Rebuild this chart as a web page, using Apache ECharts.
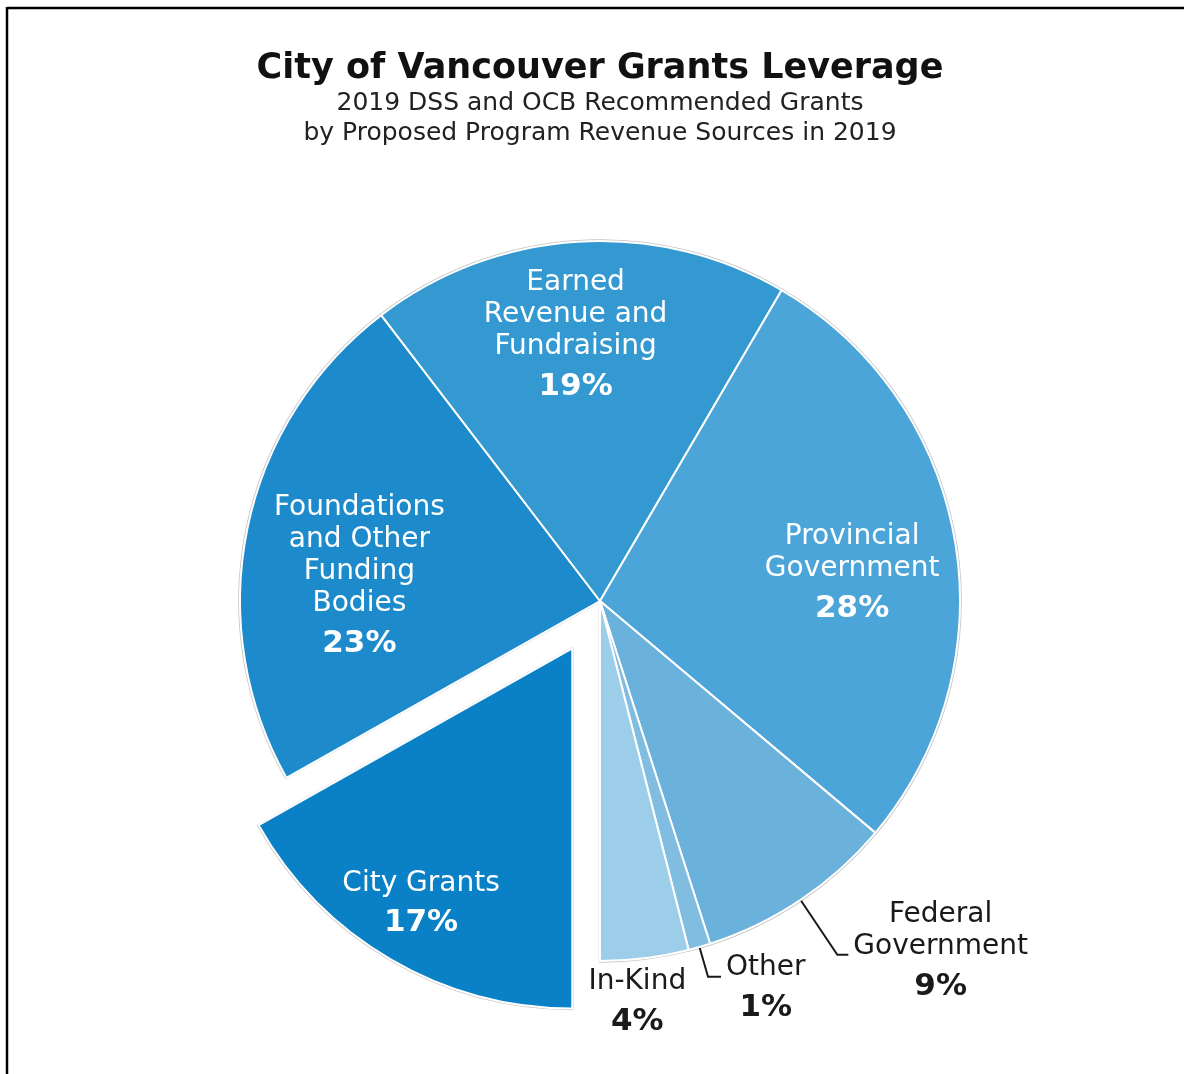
<!DOCTYPE html>
<html><head><meta charset="utf-8">
<script src="https://cdn.jsdelivr.net/npm/echarts@6/dist/echarts.min.js"></script>
<style>html,body{margin:0;padding:0;background:#fff}#c{width:1184px;height:1074px}</style>
</head><body><div id="c"></div>
<script>
const titleText = 'City of Vancouver Grants Leverage';
const subtitleLines = ['2019 DSS and OCB Recommended Grants', 'by Proposed Program Revenue Sources in 2019'];
const categories = ['City Grants', 'Foundations\nand Other\nFunding\nBodies', 'Earned\nRevenue and\nFundraising', 'Provincial\nGovernment', 'Federal\nGovernment', 'Other', 'In-Kind'];
const percents = [17, 23, 19, 28, 9, 1, 4];
const colors = ['#0a80c6', '#1d8bcb', '#3499d1', '#4ca5d8', '#6ab1db', '#80bde1', '#9ccde9'];
const labelInside = [true, true, true, true, false, false, false];
const explodedIndex = 0;
const labelShift = [[-18, 31], [18, 32], [-8, 1], [-8, 21], [0, 0], [0, 15], [-65, 18]];
const lineLen = [0, 0, 0, 0, 66, 31, 30];
const lineLen2 = [0, 0, 0, 0, 11, 13, 0];

const FONT = 'DejaVu Sans';
const R = 360, CX = 600, CY = 601;

function rich(color) {
  return {
    n: { color: color, fontSize: 28, lineHeight: 32, fontFamily: FONT, align: 'center' },
    p: { color: color, fontSize: 31, fontWeight: 'bold', lineHeight: 48, fontFamily: FONT, align: 'center' }
  };
}
const fmt = p => '{n|' + p.name + '}\n{p|' + p.value + '%}';

const common = {
  type: 'pie', center: [CX, CY], startAngle: 270, clockwise: true,
  selectedMode: 'single', selectedOffset: 55, avoidLabelOverlap: false,
  animation: false, emphasis: { disabled: true }
};

const chart = echarts.init(document.getElementById('c'), null, { renderer: 'canvas' });
chart.setOption({
  backgroundColor: '#fff',
  title: {
    text: titleText,
    subtext: subtitleLines.join('\n'),
    left: CX - 5, textAlign: 'center', top: 44, itemGap: -1,
    textStyle: { fontFamily: FONT, fontSize: 35, fontWeight: 'bold', color: '#111', lineHeight: 40 },
    subtextStyle: { fontFamily: FONT, fontSize: 25, color: '#222', lineHeight: 30 }
  },
  graphic: [
    { type: 'line', shape: { x1: 7, y1: 8, x2: 1184, y2: 8 }, style: { stroke: '#000', lineWidth: 2.5 } },
    { type: 'line', shape: { x1: 7, y1: 7, x2: 7, y2: 1074 }, style: { stroke: '#000', lineWidth: 2.5 } }
  ],
  series: [
    Object.assign({}, common, {
      name: 'outline', radius: R + 0.5, silent: true, z: 1,
      itemStyle: { color: '#c2c2c2', borderColor: '#c2c2c2', borderWidth: 2.5 },
      label: { show: false }, labelLine: { show: false },
      data: percents.map((v, i) => ({ name: categories[i], value: v, selected: i === explodedIndex }))
    }),
    Object.assign({}, common, {
      name: 'main', radius: R, z: 2,
      itemStyle: { borderColor: '#fff', borderWidth: 2 },
      label: { show: true, position: 'outside', formatter: fmt, rich: rich('#1a1a1a'), distanceToLabelLine: 5 },
      labelLine: { show: true, lineStyle: { color: '#1a1a1a', width: 2 } },
      labelLayout: p => (labelInside[p.dataIndex] ? {} : { dx: labelShift[p.dataIndex][0], dy: labelShift[p.dataIndex][1] }),
      data: percents.map((v, i) => ({
        name: categories[i], value: v, selected: i === explodedIndex,
        itemStyle: { color: colors[i] },
        label: { show: !labelInside[i] },
        labelLine: { show: !labelInside[i] && lineLen2[i] > 0, length: lineLen[i], length2: lineLen2[i] }
      }))
    }),
    Object.assign({}, common, {
      name: 'labels', radius: [R * 0.45, R], z: 3, silent: true,
      itemStyle: { color: 'rgba(0,0,0,0)', borderWidth: 0 },
      label: { show: true, position: 'inside', formatter: fmt, rich: rich('#ffffff') },
      labelLine: { show: false },
      labelLayout: p => (labelInside[p.dataIndex] ? { dx: labelShift[p.dataIndex][0], dy: labelShift[p.dataIndex][1] } : {}),
      data: percents.map((v, i) => ({
        name: categories[i], value: v, selected: i === explodedIndex,
        label: { show: labelInside[i] }
      }))
    })
  ]
});
</script></body></html>
